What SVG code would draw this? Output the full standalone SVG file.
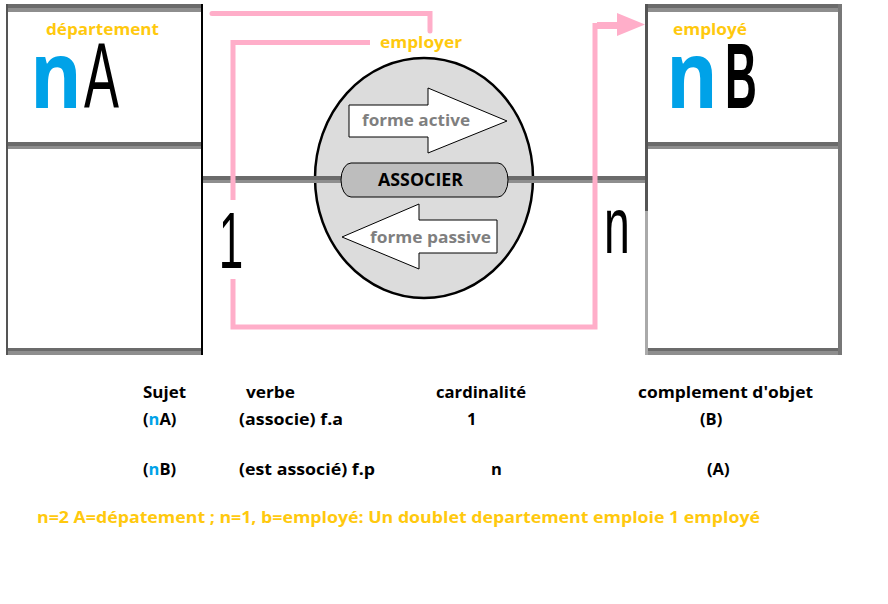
<svg xmlns="http://www.w3.org/2000/svg" width="888" height="604" viewBox="0 0 888 604">
<style>
.bar1{fill:#6b6b6b}
.bar2{fill:#8e8e8e}
.pink{fill:none;stroke:#ffaec9;stroke-width:5;stroke-linejoin:miter}
.gold{fill:#ffc90e;font-family:"Open Sans","Liberation Sans",sans-serif;font-weight:700}
.tbl{fill:#000;font-family:"Open Sans","Liberation Sans",sans-serif;font-weight:700;font-size:16.5px}
.grey{fill:#7f7f7f;font-family:"Open Sans","Liberation Sans",sans-serif;font-weight:700;font-size:16px}
.arr{fill:#fff;stroke:#000;stroke-width:1}
.blue{fill:#00a2e8}
.big{font-family:"Open Sans","Liberation Sans",sans-serif;font-weight:700;font-size:93px}
.card{font-family:"Liberation Sans",Arial,sans-serif;font-size:80px;fill:#000}
</style>
<rect width="888" height="604" fill="#fff"/>

<g id="departement">
  <rect x="6" y="4" width="197" height="4" class="bar1"/>
  <rect x="6" y="8" width="197" height="4" class="bar2"/>
  <rect x="6" y="142" width="197" height="4" class="bar1"/>
  <rect x="6" y="146" width="197" height="3" class="bar2"/>
  <rect x="6" y="348" width="197" height="3" class="bar1"/>
  <rect x="6" y="351" width="197" height="4" class="bar2"/>
  <rect x="6" y="4" width="2" height="351" fill="#555"/>
  <rect x="201" y="4" width="2" height="351" fill="#000"/>
  <text x="46" y="35" class="gold" font-size="16.5" textLength="113" lengthAdjust="spacingAndGlyphs">département</text>
  <text transform="translate(30,108) scale(0.85,1)" class="big blue">n</text>
  <text transform="translate(84,108) scale(0.57,1)" font-family="Liberation Sans,Arial,sans-serif" font-size="92" fill="#000">A</text>
</g>

<g id="employe">
  <rect x="645" y="4" width="197" height="4" class="bar1"/>
  <rect x="645" y="8" width="197" height="4" class="bar2"/>
  <rect x="645" y="142" width="197" height="4" class="bar1"/>
  <rect x="645" y="146" width="197" height="3" class="bar2"/>
  <rect x="645" y="348" width="197" height="3" class="bar1"/>
  <rect x="645" y="351" width="197" height="4" class="bar2"/>
  <rect x="645" y="4" width="3" height="207" fill="#555"/>
  <rect x="645" y="211" width="3" height="144" fill="#aaa"/>
  <rect x="838" y="4" width="4" height="351" fill="#777"/>
  <text x="673" y="35" class="gold" font-size="16.5" textLength="74" lengthAdjust="spacingAndGlyphs">employé</text>
  <text transform="translate(666,108) scale(0.85,1)" class="big blue">n</text>
  <text transform="translate(725,108) scale(0.48,1)" font-family="Liberation Sans,Arial,sans-serif" font-weight="700" font-size="92" fill="#000">B</text>
</g>

<g id="associer">
  <ellipse cx="424" cy="178" rx="109" ry="120" fill="#dcdcdc" stroke="#000" stroke-width="2.5"/>
  <rect x="315" y="176" width="30" height="4" class="bar1"/>
  <rect x="315" y="180" width="30" height="3" class="bar2"/>
  <rect x="504" y="176" width="29" height="4" class="bar1"/>
  <rect x="504" y="180" width="29" height="3" class="bar2"/>
  <polygon class="arr" points="349,105 428,105 428,88 507,121 428,153 428,137 349,137"/>
  <text x="362" y="126" class="grey" textLength="108" lengthAdjust="spacingAndGlyphs">forme active</text>
  <rect x="341" y="163" width="167" height="34" rx="10" ry="17" fill="#bdbdbd" stroke="#000" stroke-width="1"/>
  <text x="378" y="186" font-family="Open Sans,Liberation Sans,sans-serif" font-weight="700" font-size="17" fill="#000" textLength="85" lengthAdjust="spacingAndGlyphs">ASSOCIER</text>
  <polygon class="arr" points="342,237 419,204 419,220 497,220 497,253 419,253 419,269"/>
  <text x="370" y="243" class="grey" textLength="121" lengthAdjust="spacingAndGlyphs">forme passive</text>
</g>

<g id="connectors">
  <rect x="203" y="176" width="112" height="4" class="bar1"/>
  <rect x="203" y="180" width="112" height="3" class="bar2"/>
  <rect x="533" y="176" width="112" height="4" class="bar1"/>
  <rect x="533" y="180" width="112" height="3" class="bar2"/>
  <polyline class="pink" stroke-linecap="round" points="212,13.5 430,13.5 430,31"/>
  <polyline class="pink" points="370,42.5 233,42.5 233,200"/>
  <polyline class="pink" points="233,279 233,327 595,327 595,25.5 619,25.5"/>
  <rect x="597" y="22" width="22" height="7" fill="#ffaec9"/>
  <polygon points="617,13 645,24.5 617,36" fill="#ffaec9"/>
  <text x="380" y="48" class="gold" font-size="16.5" textLength="82" lengthAdjust="spacingAndGlyphs">employer</text>
  <text transform="translate(218.7,268) scale(0.55,1)" class="card">1</text>
  <text transform="translate(604,253) scale(0.58,1)" class="card">n</text>
</g>

<g id="table">
  <text x="143" y="398" class="tbl" textLength="43" lengthAdjust="spacingAndGlyphs">Sujet</text>
  <text x="246" y="398" class="tbl" textLength="49" lengthAdjust="spacingAndGlyphs">verbe</text>
  <text x="436" y="398" class="tbl" textLength="90" lengthAdjust="spacingAndGlyphs">cardinalité</text>
  <text x="638" y="398" class="tbl" textLength="175" lengthAdjust="spacingAndGlyphs">complement d'objet</text>
  <text x="143" y="425" class="tbl">(<tspan class="blue">n</tspan>A)</text>
  <text x="239" y="425" class="tbl" textLength="104" lengthAdjust="spacingAndGlyphs">(associe) f.a</text>
  <text x="467" y="425" class="tbl">1</text>
  <text x="700" y="425" class="tbl">(B)</text>
  <text x="143" y="475" class="tbl">(<tspan class="blue">n</tspan>B)</text>
  <text x="239" y="475" class="tbl" textLength="136" lengthAdjust="spacingAndGlyphs">(est associé) f.p</text>
  <text x="491" y="475" class="tbl">n</text>
  <text x="707" y="475" class="tbl">(A)</text>
  <text x="37" y="523" class="gold" font-size="16" textLength="723" lengthAdjust="spacingAndGlyphs">n=2 A=dépatement ; n=1, b=employé: Un doublet departement emploie 1 employé</text>
</g>
</svg>
